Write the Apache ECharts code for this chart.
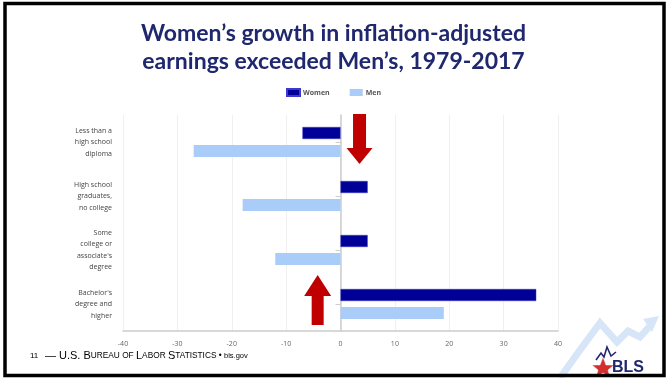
<!DOCTYPE html>
<html>
<head>
<meta charset="utf-8">
<script src="https://cdn.jsdelivr.net/npm/echarts@6/dist/echarts.min.js"></script>
<style>
  html, body { margin: 0; padding: 0; background: #fff; }
  #chart { width: 667px; height: 378px; }
</style>
</head>
<body>
<div id="chart"></div>
<script>
// Change in inflation-adjusted median weekly earnings, 1979-2017 (percent)
const categories = [
  "Less than a\nhigh school\ndiploma",
  "High school\ngraduates,\nno college",
  "Some\ncollege or\nassociate's\ndegree",
  "Bachelor's\ndegree and\nhigher"
];
const womenValues = [-7, 5, 5, 36];
const menValues = [-27, -18, -12, 19];
const xTicks = { min: -40, max: 40, interval: 10 };

const navy = '#000096';
const lightBlue = '#a9cdf8';
const titleColor = '#1f276e';
const gridLeft = 123;

const chart = echarts.init(document.getElementById('chart'), null, { renderer: 'canvas' });

const option = {
  backgroundColor: '#fff',
  animation: false,
  title: {
    text: 'Women’s growth in inflation-adjusted\nearnings exceeded Men’s, 1979-2017',
    left: 'center',
    top: 15,
    textStyle: {
      fontFamily: 'Lato',
      fontWeight: 'bold',
      fontSize: 23,
      lineHeight: 28,
      color: titleColor
    }
  },
  legend: {
    data: ['Women', 'Men'],
    top: 83,
    left: 281,
    itemWidth: 13,
    itemHeight: 7,
    itemGap: 20,
    textStyle: { fontFamily: 'Open Sans', fontSize: 7, fontWeight: 'bold', color: '#555', padding: [0, 0, 0, -2] },
    icon: 'rect'
  },
  grid: { left: gridLeft, right: 109, top: 115, bottom: 47 },
  xAxis: {
    type: 'value',
    min: xTicks.min,
    max: xTicks.max,
    interval: xTicks.interval,
    axisLine: { show: true, lineStyle: { color: '#ccc', width: 1.5 } },
    axisTick: { show: false },
    axisLabel: { fontFamily: 'Open Sans', fontSize: 7, color: '#666', margin: 9 },
    splitLine: { show: true, lineStyle: { color: '#f0f0f0', width: 1 } }
  },
  yAxis: {
    type: 'category',
    inverse: true,
    data: categories,
    axisLine: { show: true, lineStyle: { color: '#ccc', width: 1.5 } },
    axisTick: { show: true, alignWithLabel: true, length: 5, lineStyle: { color: '#ccc' } },
    // category names are drawn right-aligned below
    axisLabel: { show: false }
  },
  series: [
    {
      name: 'Women',
      type: 'bar',
      data: womenValues,
      barWidth: 12,
      barGap: '50%',
      itemStyle: { color: navy, borderColor: '#3a3ad0', borderWidth: 0.5 }
    },
    {
      name: 'Men',
      type: 'bar',
      data: menValues,
      barWidth: 12,
      itemStyle: { color: lightBlue }
    }
  ]
};
chart.setOption(option);

// Right-aligned multi-line category labels, placed at each category's centre
const categoryLabels = categories.map(function (name, i) {
  return {
    type: 'text',
    x: gridLeft - 11,
    y: chart.convertToPixel({ yAxisIndex: 0 }, i),
    style: {
      text: name,
      align: 'right',
      verticalAlign: 'middle',
      fontFamily: 'Open Sans',
      fontSize: 7,
      lineHeight: 11.5,
      fill: '#444'
    }
  };
});

// Red annotation arrows, anchored to axis values
function arrowPoints(xVal, catIndex, fromOff, toOff, shaftW, headW, headLen) {
  const cx = chart.convertToPixel({ xAxisIndex: 0 }, xVal);
  const cy = chart.convertToPixel({ yAxisIndex: 0 }, catIndex);
  const y0 = cy + fromOff, tip = cy + toOff;
  const dir = tip > y0 ? 1 : -1;
  const base = tip - dir * headLen;
  return [
    [cx - shaftW / 2, y0], [cx + shaftW / 2, y0],
    [cx + shaftW / 2, base], [cx + headW / 2, base],
    [cx, tip],
    [cx - headW / 2, base], [cx - shaftW / 2, base]
  ];
}

const arrowDown = arrowPoints(3.5, 0, -28, 22, 13, 26, 16);
const arrowUp = arrowPoints(-4.2, 3, 21, -29, 12, 27, 21);

// Footer pieces in small caps
const footerRich = {
  n: { fontFamily: 'Liberation Sans', fontSize: 8, color: '#c8c8c8' },
  big: { fontFamily: 'Liberation Sans', fontSize: 11, color: '#2b2f5e' },
  sm: { fontFamily: 'Liberation Sans', fontSize: 8.3, color: '#2b2f5e' },
  tiny: { fontFamily: 'Liberation Sans', fontSize: 7.5, color: '#4a4e7a' }
};

chart.setOption({
  graphic: categoryLabels.concat([
    {
      type: 'polygon',
      shape: { points: arrowDown },
      style: { fill: '#c00000' },
      z: 10
    },
    {
      type: 'polygon',
      shape: { points: arrowUp },
      style: { fill: '#c00000' },
      z: 10
    },
    // slide frame
    {
      type: 'rect',
      shape: { x: 5, y: 3.5, width: 659, height: 372 },
      style: { fill: 'none', stroke: '#000', lineWidth: 3.5 },
      z: 20
    },
    // footer
    {
      type: 'text',
      left: 30,
      top: 350,
      style: {
        text: '{n|11}  {big|— U.S. B}{sm|UREAU OF }{big|L}{sm|ABOR }{big|S}{sm|TATISTICS}{sm| • }{tiny|bls.gov}',
        rich: footerRich
      }
    },
    // logo trend line
    {
      type: 'polyline',
      shape: { points: [[560, 378], [580, 350], [600, 323], [617, 342], [628, 331], [640, 337], [650, 326]] },
      style: { stroke: '#d6e5f7', lineWidth: 7, fill: null },
      z: 1
    },
    {
      type: 'polygon',
      shape: { points: [[643, 319], [659, 316], [652, 332]] },
      style: { fill: '#d6e5f7' },
      z: 1
    },
    // logo star
    {
      type: 'polygon',
      shape: { points: [[603, 357], [606, 365], [614, 365], [608, 370], [610, 377], [603, 373], [596, 377], [598, 370], [592, 365], [600, 365]] },
      style: { fill: '#d32f2f', stroke: '#fff', lineWidth: 0.5 },
      z: 5
    },
    {
      type: 'polyline',
      shape: { points: [[596, 360], [601, 353], [604, 357], [607, 347], [611, 356], [616, 352]] },
      style: { stroke: '#1f276e', lineWidth: 1.6, fill: null },
      z: 5
    },
    {
      type: 'text',
      left: 612,
      top: 360,
      style: { text: 'BLS', fontFamily: 'Liberation Sans', fontWeight: 'bold', fontSize: 16, fill: '#1f276e' },
      z: 5
    }
  ])
});
</script>
</body>
</html>
